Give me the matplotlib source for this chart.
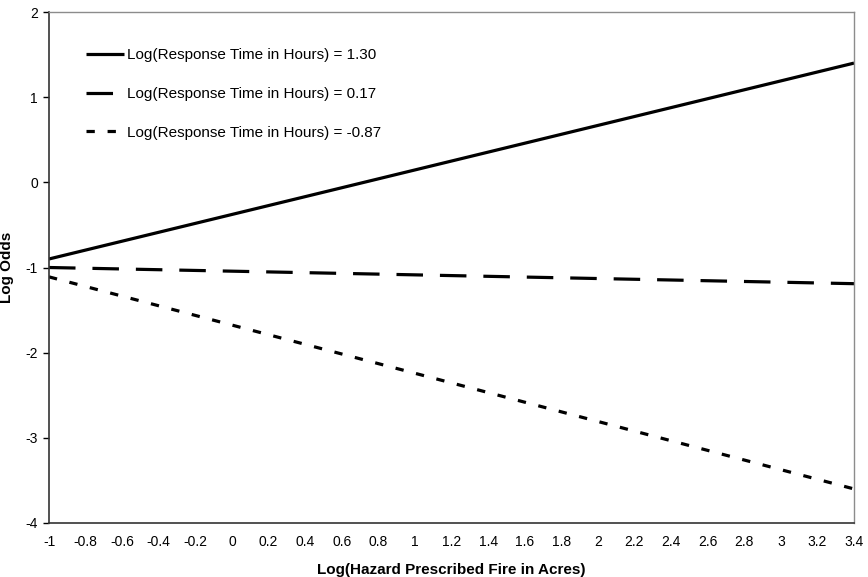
import matplotlib
matplotlib.use("Agg")
import matplotlib.pyplot as plt

plt.rcParams['font.family'] = ['Liberation Sans', 'DejaVu Sans']
plt.rcParams['axes.unicode_minus'] = False

x = [-1.0, 3.4]
series_labels = ["Log(Response Time in Hours) = 1.30",
                 "Log(Response Time in Hours) = 0.17",
                 "Log(Response Time in Hours) = -0.87"]
y_high = [-0.90, 1.40]
y_mid = [-1.00, -1.19]
y_low = [-1.11, -3.60]

xticks = [-1, -0.8, -0.6, -0.4, -0.2, 0, 0.2, 0.4, 0.6, 0.8, 1, 1.2, 1.4, 1.6,
          1.8, 2, 2.2, 2.4, 2.6, 2.8, 3, 3.2, 3.4]
xtick_labels = ["-1", "-0.8", "-0.6", "-0.4", "-0.2", "0", "0.2", "0.4", "0.6", "0.8",
                "1", "1.2", "1.4", "1.6", "1.8", "2", "2.2", "2.4", "2.6", "2.8", "3",
                "3.2", "3.4"]
yticks = [-4, -3, -2, -1, 0, 1, 2]

fig = plt.figure(figsize=(8.68, 5.77), dpi=100)
ax = fig.add_axes([49/868, 1-523/577, (854-49)/868, (523-12)/577])

lw = 2.3
ax.plot(x, y_high, color='black', lw=lw, solid_capstyle='butt', label=series_labels[0])
ax.plot(x, y_mid, color='black', lw=lw, dashes=(8.3, 5.3), dash_capstyle='butt',
        label=series_labels[1])
ax.plot(x, y_low, color='black', lw=lw, dashes=(2.6, 4.0), dash_capstyle='butt',
        label=series_labels[2])

ax.set_xlim(-1, 3.4)
ax.set_ylim(-4, 2)
ax.set_xticks(xticks)
ax.set_xticklabels(xtick_labels)
ax.set_yticks(yticks)
ax.tick_params(axis='x', length=0, labelsize=10, pad=9)
ax.tick_params(axis='y', length=4, width=1, direction='out', labelsize=10, pad=4)

for s in ['top', 'right']:
    ax.spines[s].set_color('#8c8c8c')
    ax.spines[s].set_linewidth(1)
for s in ['left', 'bottom']:
    ax.spines[s].set_color('#333333')
    ax.spines[s].set_linewidth(1.2)

ax.set_xlabel("Log(Hazard Prescribed Fire in Acres)", fontsize=11, fontweight='bold', labelpad=10)
ax.set_ylabel("Log Odds", fontsize=11, fontweight='bold')
ax.yaxis.set_label_coords(-0.044, 0.5)

leg = ax.legend(loc='upper left', bbox_to_anchor=(86/868, 1-48/577),
                bbox_transform=fig.transFigure, frameon=False, fontsize=11,
                handlelength=2.5, handletextpad=0.2, labelspacing=1.63,
                borderpad=0, borderaxespad=0)

fig.savefig("out.png", dpi=100)
